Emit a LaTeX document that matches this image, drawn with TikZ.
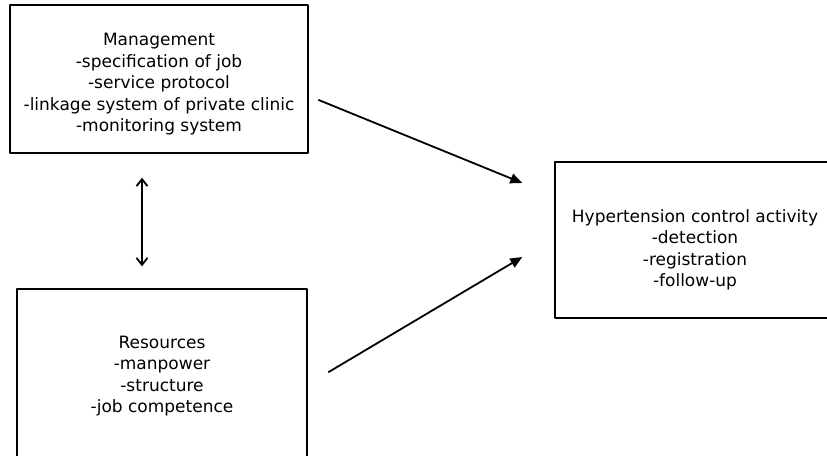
\documentclass[tikz,border=0pt]{standalone}
\usepackage{fontspec}
\setmainfont{DejaVu Sans}
\usetikzlibrary{arrows.meta}
\begin{document}
\begin{tikzpicture}[x=1pt, y=-1pt, line join=round, line cap=round,
  box/.style={draw, line width=1.4pt, align=center, inner sep=0pt,
    font=\fontsize{17}{21.5}\selectfont},
  flow/.style={line width=1.8pt, -{Triangle[length=12pt, width=10pt]}},
  link/.style={line width=1.8pt, {Straight Barb[length=7pt, width=11pt]}-{Straight Barb[length=7pt, width=11pt]}}]
\clip (0,0) rectangle (827,455);
\node[box, minimum width=298, minimum height=148] (mgmt) at (159,79)
  {\rule{0pt}{23pt}Management\\-specification of job\\-service protocol\\-linkage system of private clinic\\-monitoring system};
\node[box, minimum width=290, minimum height=174] (res) at (162,376)
  {Resources\\-manpower\\-structure\\-job competence};
\node[box, minimum width=280, minimum height=156] (act) at (695,240)
  {\rule{0pt}{33pt}Hypertension control activity\\-detection\\-registration\\-follow-up};
% free ends of the connectors
\coordinate (m1) at ([shift={(10,21)}]mgmt.east);
\coordinate (r1) at ([shift={(21,-4)}]res.east);
\coordinate (a1) at ([shift={(-32,-57)}]act.west);
\coordinate (a2) at ([shift={(-32,17)}]act.west);
\coordinate (m2) at ([shift={(-17,24)}]mgmt.south);
\coordinate (r2) at ([shift={(-20,-22)}]res.north);
\draw[flow] (m1) -- (a1);
\draw[flow] (r1) -- (a2);
\draw[link] (m2) -- (r2);
\end{tikzpicture}
\end{document}
